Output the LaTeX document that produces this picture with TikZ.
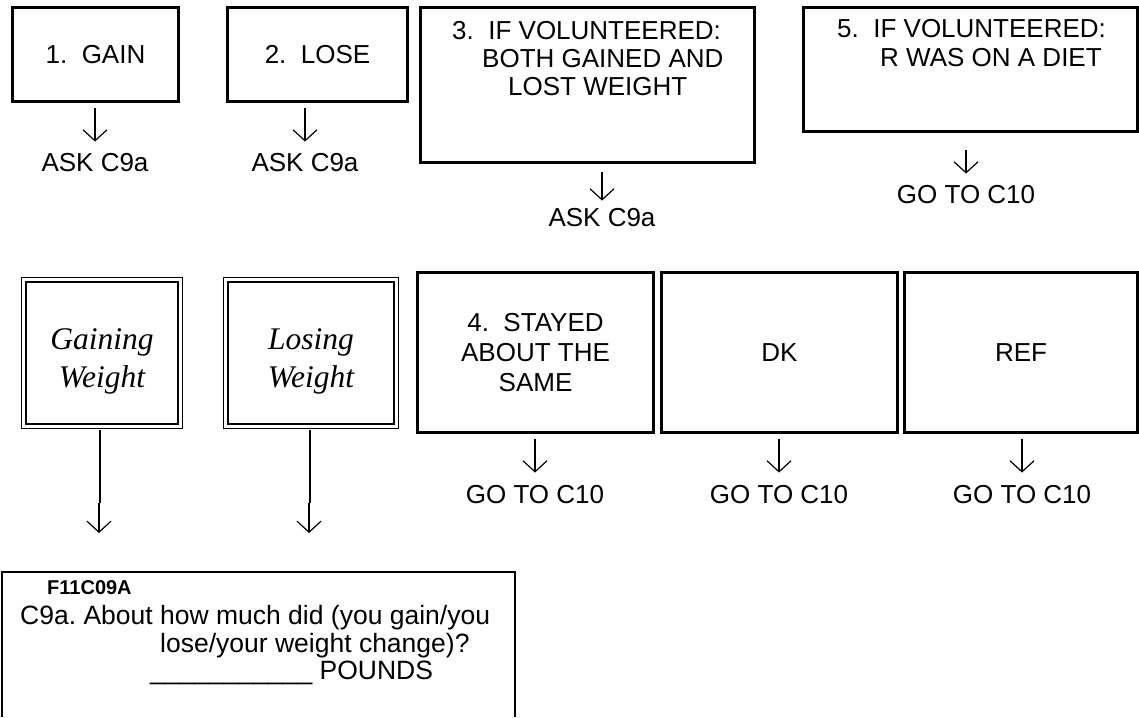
\documentclass[tikz,border=0pt]{standalone}
\usepackage{fontspec}
\setmainfont{Liberation Sans}
\newfontfamily\serifit{Liberation Serif}
\usetikzlibrary{arrows.meta}
\frenchspacing
\begin{document}
\begin{tikzpicture}[x=1pt,y=-1pt,
  every node/.style={inner sep=0pt, font=\fontsize{26}{30}\selectfont},
  box/.style={draw, line width=2.2pt, align=center},
  dbox/.style={draw, line width=1.6pt, double=white, double distance=2.8pt},
  itl/.style={align=center, font=\serifit\itshape\fontsize{31.5}{38}\selectfont},
  arr/.style={line width=1.2pt, -{Straight Barb[length=11pt,width=24pt]}},
  stem/.style={line width=2.6pt},
  qtext/.style={anchor=base west, font=\fontsize{26.5}{30}\selectfont}
]
\useasboundingbox (0,0) rectangle (1139,717);

% top row
\node[box, minimum width=166pt, minimum height=94pt] (b1) at (95.5,54.5) {1.\ \ GAIN};
\node[box, minimum width=180pt, minimum height=94pt] (b2) at (317.5,54.5) {2.\ \ LOSE};
\node[box, minimum width=334pt, minimum height=155pt] (b3) at (587.5,85) {};
\node[anchor=north west, align=left, font=\fontsize{26}{28}\selectfont] (t3) at (452,21)
  {3.\ \ IF VOLUNTEERED:\\\hspace*{30pt}BOTH GAINED AND\\\hspace*{56pt}LOST WEIGHT};
\node[box, minimum width=334pt, minimum height=124pt] (b5) at (970.5,69.5) {};
\node[anchor=north west, align=left, font=\fontsize{26}{29}\selectfont] (t5) at (837,19)
  {5.\ \ IF VOLUNTEERED:\\\hspace*{43pt}R WAS ON A DIET};

\node (l1) at (95,163) {ASK C9a};
\node (l2) at (305,163) {ASK C9a};
\node (l3) at (602,218) {ASK C9a};
\node (l5) at (966,195) {GO TO C10};

\draw[arr, shorten <=5pt, shorten >=12pt] (b1.south -| l1.north) -- (l1.north);
\draw[arr, shorten <=5pt, shorten >=12pt] (b2.south -| l2.north) -- (l2.north);
\draw[arr, shorten <=8pt, shorten >=8pt] (b3.south -| l3.north) -- (l3.north);
\draw[arr, shorten <=17pt, shorten >=12pt] (b5.south -| l5.north) -- (l5.north);

% second row
\node[dbox, minimum width=156.8pt, minimum height=146.8pt] (g) at (102,353) {};
\node[itl] (gt) at (102,361) {Gaining\\Weight};
\node[dbox, minimum width=170.8pt, minimum height=146.8pt] (lw) at (311,353) {};
\node[itl] (lt) at (311,361) {Losing\\Weight};
\node[box, minimum width=236pt, minimum height=160pt] (b4) at (535.5,352.5) {4.\ \ STAYED\\ABOUT THE\\SAME};
\node[box, minimum width=236pt, minimum height=160pt] (dk) at (779.5,352.5) {DK};
\node[box, minimum width=233pt, minimum height=160pt] (rf) at (1021,352.5) {REF};

\node (l4) at (535,495) {GO TO C10};
\node (ldk) at (779,495) {GO TO C10};
\node (lrf) at (1022,495) {GO TO C10};

\draw[arr, shorten <=5pt, shorten >=13pt] (b4.south -| l4.north) -- (l4.north);
\draw[arr, shorten <=5pt, shorten >=13pt] (dk.south -| ldk.north) -- (ldk.north);
\draw[arr, shorten <=5pt, shorten >=13pt] (rf.south -| lrf.north) -- (lrf.north);

% long arrows to question box
\coordinate (gk) at (100,503);
\coordinate (ge) at (99,533);
\coordinate (lk) at (310,503);
\coordinate (le) at (309,533);
\draw[stem, shorten <=3pt] (g.south -| gk) -- (gk);
\draw[arr] (gk -| ge) -- (ge);
\draw[stem, shorten <=3pt] (lw.south -| lk) -- (lk);
\draw[arr] (lk -| le) -- (le);

% question box (open at bottom)
\draw[line width=2.2pt] (2,717) -- (2,572) -- (515,572) -- (515,717);
\node[anchor=west, font=\bfseries\fontsize{20}{22}\selectfont] (qid) at (47,588) {F11C09A};
\node[qtext] (q1) at (20,624) {C9a. About how much did (you gain/you};
\node[qtext] (q2) at (160,652) {lose/your weight change)?};
\node[qtext] (q3) at (150,679) {\_\_\_\_\_\_\_\_\_\_\_ POUNDS};
\end{tikzpicture}
\end{document}
